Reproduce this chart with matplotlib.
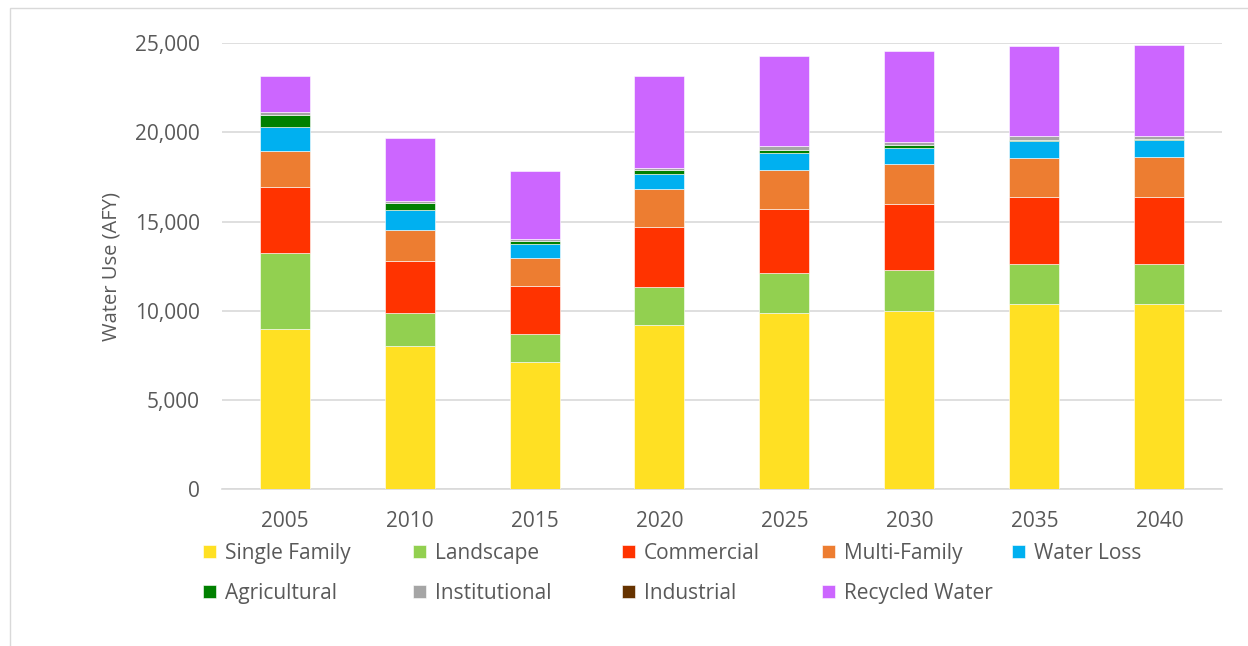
import matplotlib

matplotlib.use("Agg")
import matplotlib.pyplot as plt
import numpy as np
from matplotlib.patches import Rectangle

plt.rcParams["font.family"] = ["Open Sans", "DejaVu Sans"]

years = ["2005", "2010", "2015", "2020", "2025", "2030", "2035", "2040"]

single_family = [9000, 8000, 7100, 9200, 9850, 10000, 10370, 10370]
landscape = [4250, 1900, 1590, 2120, 2250, 2280, 2240, 2240]
commercial = [3700, 2880, 2690, 3380, 3600, 3700, 3780, 3780]
multi_family = [2000, 1760, 1550, 2100, 2210, 2240, 2200, 2240]
water_loss = [1340, 1100, 800, 860, 910, 910, 920, 930]
agricultural = [690, 410, 170, 220, 170, 150, 90, 70]
institutional = [190, 130, 150, 150, 230, 210, 200, 160]
industrial = [0, 0, 0, 0, 0, 0, 0, 0]
recycled_water = [1980, 3530, 3810, 5120, 5040, 5060, 5030, 5090]

series = [
    ("Single Family", single_family, "#FFE023"),
    ("Landscape", landscape, "#92D050"),
    ("Commercial", commercial, "#FF3300"),
    ("Multi-Family", multi_family, "#ED7D31"),
    ("Water Loss", water_loss, "#00B0F0"),
    ("Agricultural", agricultural, "#008000"),
    ("Institutional", institutional, "#A5A5A5"),
    ("Industrial", industrial, "#663300"),
    ("Recycled Water", recycled_water, "#CC66FF"),
]

text_color = "#595959"
W, H = 1248, 646

fig = plt.figure(figsize=(W / 100, H / 100), dpi=100)
ax = fig.add_axes([0.178, 0.243, 0.801, 0.690])

x = np.arange(len(years))
bottom = np.zeros(len(years))
handles = {}
for name, vals, color in series:
    vals = np.array(vals, dtype=float)
    bars = ax.bar(x, vals, width=0.4, bottom=bottom, color=color,
                  edgecolor="white", linewidth=0.4, label=name, zorder=3)
    handles[name] = bars
    bottom += vals

ax.set_xlim(-0.5, len(years) - 0.5)
ax.set_ylim(0, 25000)
ax.set_yticks(range(0, 25001, 5000))
ax.set_yticklabels([f"{v:,}" for v in range(0, 25001, 5000)])
ax.set_xticks(x)
ax.set_xticklabels(years)
ax.yaxis.grid(True, color="#D9D9D9", linewidth=1.2, zorder=0)
ax.set_axisbelow(True)
for side in ["top", "right", "left"]:
    ax.spines[side].set_visible(False)
ax.spines["bottom"].set_color("#D9D9D9")
ax.spines["bottom"].set_linewidth(1.2)
ax.tick_params(axis="both", length=0, labelsize=15, colors=text_color)
ax.tick_params(axis="y", pad=16)
ax.tick_params(axis="x", pad=16)
ax.set_ylabel("Water Use (AFY)", fontsize=14.5, color=text_color, labelpad=10)

# legend: one small legend per column so the columns sit where Excel put them
columns = [["Single Family", "Agricultural"], ["Landscape", "Institutional"],
           ["Commercial", "Industrial"], ["Multi-Family", "Recycled Water"],
           ["Water Loss"]]
col_x = [203, 413, 622, 822, 1012]
for names, px in zip(columns, col_x):
    fig.legend([handles[n] for n in names], names, loc="upper left",
               bbox_to_anchor=(px / W, 1 - 543 / H), frameon=False,
               fontsize=15, labelcolor=text_color, handlelength=0.6,
               handleheight=0.6, handletextpad=0.45, labelspacing=0.9,
               borderpad=0, borderaxespad=0)

# light frame around the chart
fig.patches.append(Rectangle((0.008, -0.01), 1.0, 0.998, transform=fig.transFigure,
                             fill=False, edgecolor="#D9D9D9", linewidth=1))

fig.savefig("out.png", dpi=100)
